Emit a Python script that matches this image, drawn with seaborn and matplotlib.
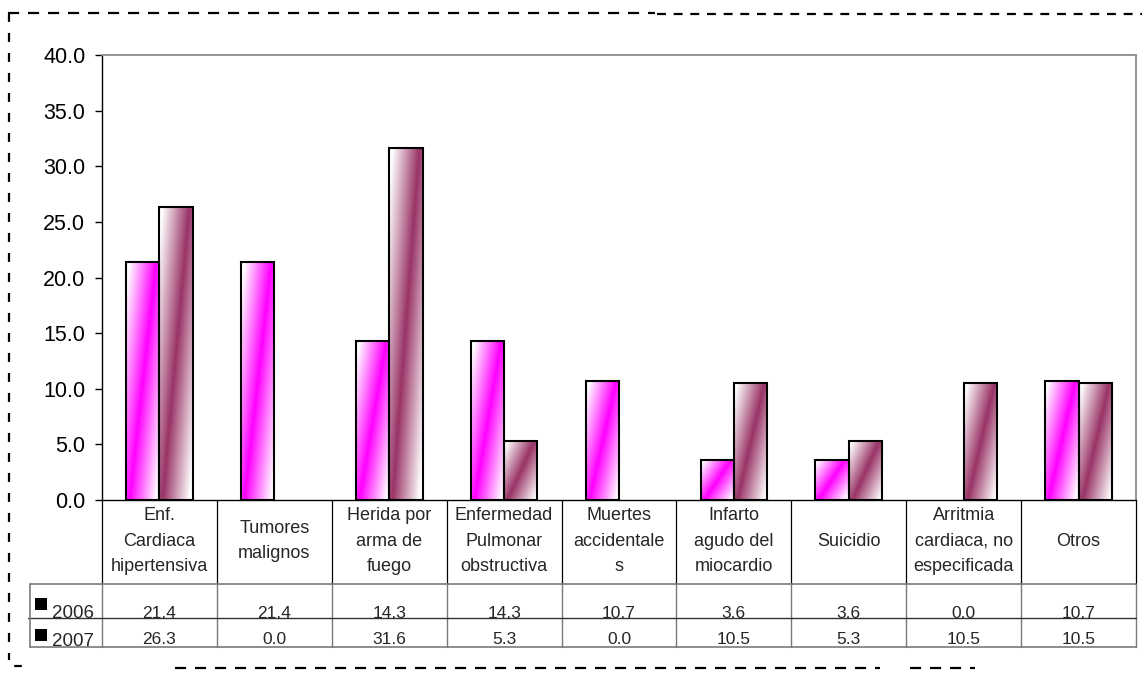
import numpy as np
import pandas as pd
import matplotlib
matplotlib.use("Agg")
import matplotlib.pyplot as plt
import seaborn as sns
from matplotlib.lines import Line2D
from matplotlib.patches import Rectangle
from matplotlib.transforms import blended_transform_factory
from matplotlib.colors import to_rgb

# ---- data -------------------------------------------------------------
categorias = [
    "Enf.\nCardiaca\nhipertensiva",
    "Tumores\nmalignos",
    "Herida por\narma de\nfuego",
    "Enfermedad\nPulmonar\nobstructiva",
    "Muertes\naccidentale\ns",
    "Infarto\nagudo del\nmiocardio",
    "Suicidio",
    "Arritmia\ncardiaca, no\nespecificada",
    "Otros",
]
anios = ["2006", "2007"]
tasa_2006 = [21.4, 21.4, 14.3, 14.3, 10.7, 3.6, 3.6, 0.0, 10.7]
tasa_2007 = [26.3, 0.0, 31.6, 5.3, 0.0, 10.5, 5.3, 10.5, 10.5]
y_ticks = [0, 5, 10, 15, 20, 25, 30, 35, 40]
colores = ["#FF00FF", "#993366"]

df = pd.DataFrame({
    "causa": categorias * 2,
    "anio": [anios[0]] * len(categorias) + [anios[1]] * len(categorias),
    "tasa": tasa_2006 + tasa_2007,
})

# ---- figure -----------------------------------------------------------
W, H = 1142, 675
sns.set_theme(style="white")
plt.rcParams["font.family"] = ["Liberation Sans", "DejaVu Sans"]

fig = plt.figure(figsize=(W / 100, H / 100), dpi=100)
fig.patch.set_facecolor("white")


def fx(px):
    return px / W


def fy(py):
    return 1 - py / H


ax_l, ax_r, ax_t, ax_b = 102, 1136, 55, 500
ax = fig.add_axes([fx(ax_l), fy(ax_b), (ax_r - ax_l) / W, (ax_b - ax_t) / H])

sns.barplot(data=df, x="causa", y="tasa", hue="anio", order=categorias,
            hue_order=anios, palette=colores, saturation=1, width=0.58,
            edgecolor="black", linewidth=1.5, legend=False, ax=ax)

# diagonal two-tone gradient fill inside every bar
rows, cols = 240, 80
u = np.linspace(0, 1, cols)[None, :]
v = np.linspace(0, 1, rows)[:, None]
centro = 0.1 + 0.8 * v
peso = np.clip(1 - np.abs(u - centro) / 0.8, 0, 1)
for cont, col in zip(ax.containers, colores):
    rgb = np.array(to_rgb(col))
    img = 1 - peso[..., None] * (1 - rgb[None, None, :])
    for bar in cont:
        x0, y0 = bar.get_xy()
        w, h = bar.get_width(), bar.get_height()
        if h > 0:
            im = ax.imshow(img, extent=[x0, x0 + w, y0, y0 + h], origin="lower",
                           aspect="auto", interpolation="bilinear",
                           zorder=bar.get_zorder() - 0.1)
            im.set_clip_path(bar)
        else:
            bar.set_linewidth(0)
        bar.set_facecolor("none")

ax.set_xlim(-0.5, len(categorias) - 0.5)
ax.set_ylim(0, 40)
ax.set_yticks(y_ticks)
ax.set_yticklabels([f"{t:.1f}" for t in y_ticks])
ax.set_xticks([])
ax.set_xlabel("")
ax.set_ylabel("")
ax.tick_params(axis="y", direction="out", length=5, width=1, pad=7,
               labelsize=15.5, colors="black", left=True)
for side in ["left", "bottom"]:
    ax.spines[side].set_color("black")
    ax.spines[side].set_linewidth(1.0)
for side in ["top", "right"]:
    ax.spines[side].set_color("#8c8c8c")
    ax.spines[side].set_linewidth(1.3)

# ---- category labels and data table under the axis --------------------
bt = blended_transform_factory(ax.transData, fig.transFigure)
gris = "#7a7a7a"
tab_l, tab_top, tab_mid, tab_bot = 30, 584, 618, 647

for i, cat in enumerate(categorias):
    ax.text(i, fy(541), cat, transform=bt, ha="center", va="center",
            multialignment="center", fontsize=13, linespacing=1.65,
            clip_on=False)
    ax.text(i, fy(613), f"{tasa_2006[i]:.1f}", transform=bt, ha="center",
            va="center", fontsize=12.5, clip_on=False)
    ax.text(i, fy(640), f"{tasa_2007[i]:.1f}", transform=bt, ha="center",
            va="center", fontsize=12.5, clip_on=False)

# column separators
for i in range(len(categorias) + 1):
    xb = i - 0.5
    ax.add_line(Line2D([xb, xb], [fy(ax_b), fy(tab_top)], transform=bt,
                       color="black", lw=0.9, clip_on=False))
    ax.add_line(Line2D([xb, xb], [fy(tab_top), fy(tab_bot)], transform=bt,
                       color=gris, lw=1.0, clip_on=False))

# horizontal table rules and left border
fig.add_artist(Line2D([fx(tab_l), fx(ax_r)], [fy(tab_top)] * 2, color=gris, lw=1.2))
fig.add_artist(Line2D([fx(tab_l - 2), fx(ax_r)], [fy(tab_mid)] * 2, color="#333333", lw=1.0))
fig.add_artist(Line2D([fx(tab_l), fx(ax_r)], [fy(tab_bot)] * 2, color=gris, lw=1.2))
fig.add_artist(Line2D([fx(tab_l)] * 2, [fy(tab_top), fy(tab_bot)], color=gris, lw=1.2))

# legend keys inside the table
for anio, ytxt, ysq in [(anios[0], 614, 598), (anios[1], 641, 629)]:
    fig.add_artist(Rectangle((fx(35), fy(ysq + 12)), 12 / W, 12 / H,
                             facecolor="black", edgecolor="none"))
    fig.text(fx(52), fy(ytxt), anio, ha="left", va="center", fontsize=13.5)

# dashed outer frame
dash = dict(color="black", lw=1.6)
fig.add_artist(Line2D([fx(8), fx(655)], [fy(13)] * 2, ls=(0, (5, 4)), **dash))
fig.add_artist(Line2D([fx(657), fx(1142)], [fy(14)] * 2, ls=(0, (4, 3.5)), **dash))
fig.add_artist(Line2D([fx(9)] * 2, [fy(13), fy(660)], ls=(0, (4, 5)), **dash))
fig.add_artist(Line2D([fx(175), fx(880)], [fy(668)] * 2, ls=(0, (5, 4)), **dash))
fig.add_artist(Line2D([fx(910), fx(975)], [fy(668)] * 2, ls=(0, (5, 4)), **dash))
fig.add_artist(Line2D([fx(15), fx(21)], [fy(666)] * 2, **dash))

fig.savefig("out.png", dpi=100, facecolor="white")
